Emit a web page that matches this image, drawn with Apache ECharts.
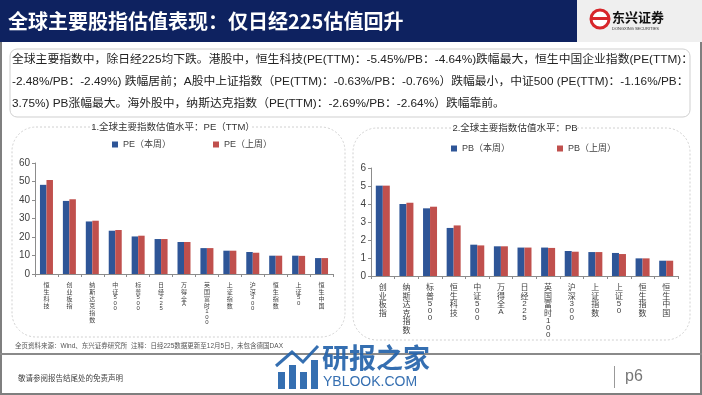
<!DOCTYPE html>
<html><head><meta charset="utf-8">
<script src="https://cdn.jsdelivr.net/npm/echarts@6/dist/echarts.min.js"></script>
<style>html,body{margin:0;padding:0;background:#fff}#c{width:702px;height:395px}</style>
</head><body><div id="c"></div>
<script>
const peCats = ['恒生科技','创业板指','纳斯达克指数','中证500','标普500','日经225','万得全A','英国富时100','上证指数','沪深300','恒生指数','上证50','恒生中国'];
const peThis = [48.2,39.5,28.4,23.4,20.3,18.9,17.3,14.0,12.6,11.9,9.9,9.9,8.6];
const peLast = [50.8,40.4,28.8,23.8,20.7,18.9,17.3,14.0,12.6,11.5,9.9,9.8,8.6];
const pbCats = ['创业板指','纳斯达克指数','标普500','恒生科技','中证500','万得全A','日经225','英国富时100','沪深300','上证指数','上证50','恒生指数','恒生中国'];
const pbThis = [5.02,4.0,3.76,2.67,1.74,1.65,1.58,1.58,1.39,1.33,1.28,0.98,0.85];
const pbLast = [5.02,4.07,3.85,2.81,1.70,1.65,1.58,1.56,1.35,1.33,1.22,0.98,0.85];
const peTicks = [0,10,20,30,40,50,60];
const pbTicks = [0,1,2,3,4,5,6];

const BLUE = '#2E5597', RED = '#C0504D';
const CJK = "'Noto Sans CJK SC', sans-serif";
const MIX = "'Liberation Sans Narrow','Liberation Sans','Noto Sans CJK SC', sans-serif";
const body = [
 '全球主要指数中，除日经225均下跌。港股中，恒生科技(PE(TTM)：-5.45%/PB：-4.64%)跌幅最大，恒生中国企业指数(PE(TTM)：',
 '-2.48%/PB：-2.49%) 跌幅居前；A股中上证指数（PE(TTM)：-0.63%/PB：-0.76%）跌幅最小，中证500 (PE(TTM)：-1.16%/PB：',
 '3.75%) PB涨幅最大。海外股中，纳斯达克指数（PE(TTM)：-2.69%/PB：-2.64%）跌幅靠前。'
];

const chart = echarts.init(document.getElementById('c'), null, {renderer:'canvas'});
const vert = s => s.split('').map(ch => /[0-9A-Za-z]/.test(ch) ? '{d|' + ch + '}' : ch).join('\n');
function xAx(idx, cats, fs, lh, dlh){
  return {type:'category', gridIndex:idx, data:cats,
    axisLine:{lineStyle:{color:'#8c8c8c'}},
    axisTick:{show:true, alignWithLabel:false, length:3, lineStyle:{color:'#8c8c8c'}},
    axisLabel:{interval:0, formatter:vert, fontSize:fs, lineHeight:lh, color:'#404040', fontFamily:CJK, margin:7, verticalAlign:'top',
      rich:{d:{fontSize:fs, lineHeight:dlh, color:'#404040', fontFamily:"'Liberation Sans', sans-serif"}}}};
}
function yAx(idx, ticks){
  return {type:'value', gridIndex:idx, min:ticks[0], max:ticks[ticks.length-1], interval:ticks[1]-ticks[0],
    axisLine:{show:true, lineStyle:{color:'#8c8c8c'}},
    axisTick:{show:true, length:3, lineStyle:{color:'#8c8c8c'}},
    splitLine:{show:false},
    axisLabel:{fontSize:10, color:'#404040', fontFamily:"'Liberation Sans', sans-serif", margin:5}};
}
function leg(name, left, top){
  return {data:[name], left:left, top:top, itemWidth:6, itemHeight:6, icon:'rect',
    textStyle:{fontSize:9, color:'#404040', fontFamily:MIX}, padding:0, selectedMode:false};
}
const WM = 'rgba(31,95,168,0.9)';
const graphics = [
  {type:'rect', shape:{x:0,y:0,width:577,height:42}, style:{fill:'#0E2260'}},
  {type:'rect', shape:{x:577,y:0,width:125,height:42}, style:{fill:'#EFEFEF'}},
  {type:'text', x:8, y:21, style:{text:'全球主要股指估值表现：仅日经225估值回升', fill:'#fff', font:"bold 20px 'Noto Sans CJK SC'", textVerticalAlign:'middle'}},
  {type:'circle', shape:{cx:600,cy:19,r:9}, style:{fill:'#fff', stroke:'#D7262B', lineWidth:3}},
  {type:'rect', shape:{x:592,y:17,width:16,height:3}, style:{fill:'#D7262B'}},
  {type:'text', x:612, y:17, style:{text:'东兴证券', fill:'#111', font:"bold 13px 'Noto Sans CJK SC'", textVerticalAlign:'middle'}},
  {type:'text', x:612, y:29, style:{text:'DONGXING SECURITIES', fill:'#333', font:"4px 'Liberation Sans'", textVerticalAlign:'middle'}},
  {type:'rect', shape:{x:0,y:42,width:2,height:353}, style:{fill:'#7f7f7f'}},
  {type:'rect', shape:{x:700,y:42,width:2,height:353}, style:{fill:'#7f7f7f'}},
  {type:'rect', shape:{x:0,y:393,width:702,height:2}, style:{fill:'#7f7f7f'}},
  {type:'rect', shape:{x:10,y:49,width:680,height:68,r:7}, style:{fill:'none', stroke:'#cfcfcf', lineWidth:1}},
  {type:'rect', shape:{x:12,y:127,width:333,height:210,r:24}, style:{fill:'none', stroke:'#d0d0d0', lineWidth:1, lineDash:[2,2]}},
  {type:'rect', shape:{x:353,y:128,width:337,height:212,r:24}, style:{fill:'none', stroke:'#d0d0d0', lineWidth:1, lineDash:[2,2]}},
  {type:'rect', shape:{x:96,y:120,width:154,height:14}, style:{fill:'#fff'}},
  {type:'rect', shape:{x:454,y:121,width:123,height:14}, style:{fill:'#fff'}},
  {type:'text', x:173, y:127, style:{text:'1.全球主要指数估值水平：PE（TTM）', fill:'#333', font:"9.5px "+MIX, textAlign:'center', textVerticalAlign:'middle'}},
  {type:'text', x:515, y:128, style:{text:'2.全球主要指数估值水平：PB', fill:'#333', font:"9.5px "+MIX, textAlign:'center', textVerticalAlign:'middle'}},
  {type:'text', x:15, y:346, style:{text:'全页资料来源：Wind、东兴证券研究所  注释：日经225数据更新至12月5日，未包含德国DAX', fill:'#555', font:"6.5px "+MIX, textVerticalAlign:'middle'}},
  {type:'rect', shape:{x:0,y:353,width:702,height:2}, style:{fill:'#8a8a8a'}},
  {type:'text', x:18, y:378, style:{text:'敬请参阅报告结尾处的免责声明', fill:'#444', font:"7.5px "+CJK, textVerticalAlign:'middle'}},
  {type:'rect', shape:{x:614,y:366,width:1,height:22}, style:{fill:'#999'}},
  {type:'text', x:625, y:377, style:{text:'p6', fill:'#777', font:"16px 'Liberation Sans'", textVerticalAlign:'middle'}},
  {type:'rect', shape:{x:278,y:372,width:7,height:17}, style:{fill:WM}},
  {type:'rect', shape:{x:289,y:365,width:7,height:24}, style:{fill:WM}},
  {type:'rect', shape:{x:300,y:372,width:7,height:17}, style:{fill:WM}},
  {type:'rect', shape:{x:311,y:360,width:7,height:29}, style:{fill:WM}},
  {type:'polyline', shape:{points:[[276,366],[292,352],[303,362],[318,346]]}, style:{stroke:WM, lineWidth:3, fill:'none'}},
  {type:'text', x:322, y:358, style:{text:'研报之家', fill:WM, font:"bold 27px "+CJK, textVerticalAlign:'middle'}},
  {type:'text', x:323, y:382, style:{text:'YBLOOK.COM', fill:WM, font:"14px 'Liberation Sans'", textVerticalAlign:'middle'}}
];
body.forEach((t,i)=>graphics.push({type:'text', x:12, y:60+i*22, style:{text:t, fill:'#222', font:"11.8px "+MIX, textVerticalAlign:'middle'}}));

chart.setOption({
  animation:false,
  textStyle:{fontFamily:MIX},
  grid:[{left:35, width:298, top:163, height:111}, {left:371, width:307, top:168, height:108}],
  xAxis:[xAx(0, peCats, 6, 7, 5.5), xAx(1, pbCats, 8, 8.5, 7)],
  yAxis:[yAx(0, peTicks), yAx(1, pbTicks)],
  legend:[leg('PE（本周）',112,140), leg('PE（上周）',213,140), leg('PB（本周）',451,144), leg('PB（上周）',557,144)],
  series:[
    {name:'PE（本周）', type:'bar', xAxisIndex:0, yAxisIndex:0, data:peThis, barWidth:6.5, barGap:'0%', itemStyle:{color:BLUE}},
    {name:'PE（上周）', type:'bar', xAxisIndex:0, yAxisIndex:0, data:peLast, barWidth:6.5, barGap:'0%', itemStyle:{color:RED}},
    {name:'PB（本周）', type:'bar', xAxisIndex:1, yAxisIndex:1, data:pbThis, barWidth:7, barGap:'0%', itemStyle:{color:BLUE}},
    {name:'PB（上周）', type:'bar', xAxisIndex:1, yAxisIndex:1, data:pbLast, barWidth:7, barGap:'0%', itemStyle:{color:RED}}
  ],
  graphic:graphics
});
</script></body></html>
